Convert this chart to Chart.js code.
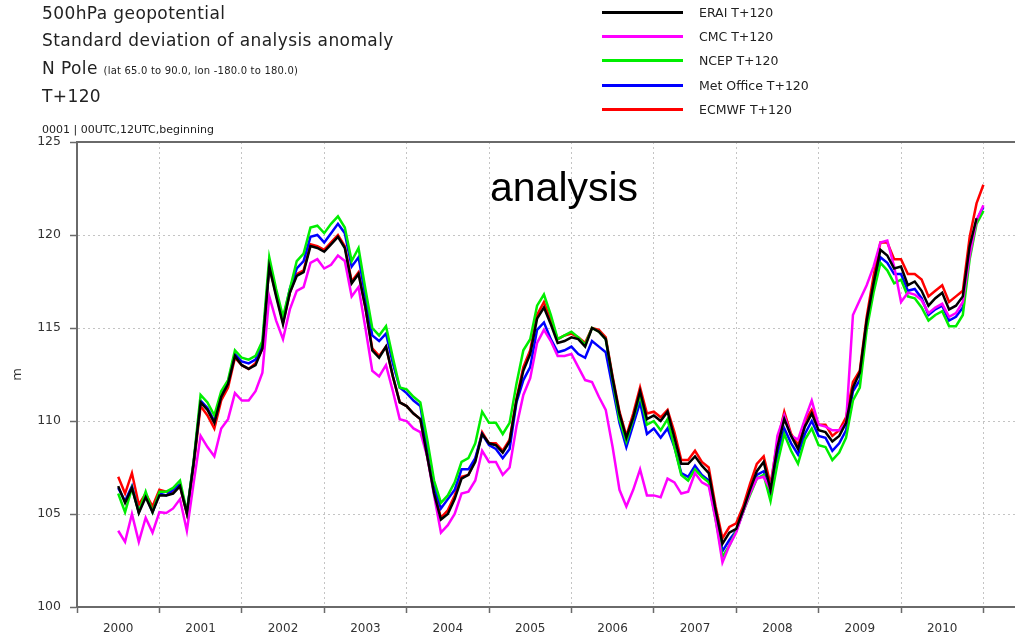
<!DOCTYPE html>
<html>
<head>
<meta charset="utf-8">
<script src="https://cdn.jsdelivr.net/npm/chart.js@4.4.1/dist/chart.umd.min.js"></script>
<style>
  body { margin: 0; background: #fff; }
  #wrap { position: relative; width: 1015px; height: 636px; font-family: "DejaVu Sans", sans-serif; color: #222; }
  #myChart { position: absolute; left: 0; top: 0; }
  .title { position: absolute; left: 42px; font-size: 17px; line-height: 17px; letter-spacing: 0.4px; white-space: nowrap; }
  .small { font-size: 10px; letter-spacing: 0.2px; }
  .note { position: absolute; left: 42px; top: 124px; font-size: 11px; line-height: 11px; white-space: nowrap; }
  .legend-row { position: absolute; left: 602px; height: 24px; display: flex; align-items: center; white-space: nowrap; font-size: 12.5px; }
  .legend-line { width: 81px; height: 3px; margin-right: 16px; }
  #analysis { position: absolute; left: 490px; top: 167px; font-family: "Liberation Sans", Arial, sans-serif; font-size: 41px; line-height: 41px; color: #000; }
</style>
</head>
<body>
<div id="wrap">
  <canvas id="myChart" width="1015" height="636"></canvas>
  <div class="title" style="top:5px">500hPa geopotential</div>
  <div class="title" style="top:32px">Standard deviation of analysis anomaly</div>
  <div class="title" style="top:60px">N Pole <span class="small">(lat 65.0 to 90.0, lon -180.0 to 180.0)</span></div>
  <div class="title" style="top:88px">T+120</div>
  <div class="note">0001 | 00UTC,12UTC,beginning</div>
  <div id="legend"></div>
  <div id="analysis">analysis</div>
</div>
<script>
// month index 0 = start of 2000, first plotted value is month 6 (mid 2000)
var firstMonth = 6;
var years = ['2000', '2001', '2002', '2003', '2004', '2005', '2006', '2007', '2008', '2009', '2010'];

var seriesNames = ['ERAI T+120', 'CMC T+120', 'NCEP T+120', 'Met Office T+120', 'ECMWF T+120'];
var seriesColors = ['#000000', '#ff00ff', '#00ee00', '#0000ff', '#ff0000'];

// ERAI (black)
var erai = [
  106.5, 105.6, 106.4, 105.05, 105.9, 105.1, 106.0, 106.0, 106.1, 106.5, 105.05, 107.8,
  111.0, 110.6, 109.9, 111.3, 112.0, 113.5, 113.0, 112.8, 113.0, 113.9, 118.3, 116.7,
  115.2, 116.9, 117.8, 118.0, 119.4, 119.3, 119.1, 119.5, 119.9, 119.3, 117.4, 117.9,
  116.1, 113.8, 113.4, 114.0, 112.4, 111.0, 110.8, 110.4, 110.1, 108.1, 106.1, 104.7,
  105.0, 105.8, 106.9, 107.1, 107.8, 109.3, 108.8, 108.7, 108.3, 108.9, 111.1, 112.7,
  113.6, 115.5, 116.1, 115.2, 114.2, 114.3, 114.5, 114.4, 114.0, 115.0, 114.8, 114.4,
  112.3, 110.4, 109.1, 110.2, 111.6, 110.1, 110.3, 110.0, 110.5, 109.1, 107.7, 107.7,
  108.1, 107.6, 107.2, 105.2, 103.4, 104.0, 104.2, 105.2, 106.3, 107.3, 107.8, 106.3,
  108.6, 110.1, 109.2, 108.5, 109.7, 110.4, 109.5, 109.4, 108.9, 109.2, 109.9, 111.8,
  112.6, 115.4, 117.4, 119.2, 118.9, 118.2, 118.3, 117.3, 117.5, 117.0, 116.2, 116.6,
  116.9, 116.0, 116.2, 116.7, 119.4, 120.9
];

// CMC (magenta)
var cmc = [
  104.1, 103.5, 105.0, 103.5, 104.8, 104.0, 105.1, 105.05, 105.3, 105.8, 104.1, 106.7,
  109.2, 108.6, 108.1, 109.6, 110.1, 111.5, 111.1, 111.1, 111.6, 112.6, 116.7, 115.4,
  114.4, 116.0, 117.0, 117.2, 118.5, 118.7, 118.2, 118.4, 118.9, 118.6, 116.7, 117.2,
  115.0, 112.7, 112.4, 113.0, 111.6, 110.1, 110.0, 109.6, 109.4, 108.1, 106.0, 104.0,
  104.4, 105.0, 106.1, 106.2, 106.8, 108.4, 107.8, 107.8, 107.1, 107.5, 109.7, 111.4,
  112.3, 114.2, 114.9, 114.3, 113.5, 113.5, 113.6, 112.9, 112.2, 112.1, 111.3, 110.6,
  108.6, 106.3, 105.4, 106.3, 107.4, 106.0, 106.0, 105.9, 106.9, 106.7, 106.1, 106.2,
  107.2, 106.7, 106.5, 104.7, 102.4, 103.3, 104.0, 105.1, 106.1, 106.9, 107.0, 106.3,
  109.2, 110.3, 109.2, 109.0, 110.1, 111.1, 109.8, 109.7, 109.5, 109.5, 109.9, 115.7,
  116.5, 117.3, 118.3, 119.6, 119.7, 118.3, 116.4, 116.9, 116.8, 116.5, 115.8, 116.1,
  116.3, 115.6, 115.8, 116.4, 118.9, 120.8, 121.6
];

// NCEP (green)
var ncep = [
  106.1, 105.1, 106.4, 105.1, 106.2, 105.1, 106.2, 106.2, 106.4, 106.8, 105.1, 107.9,
  111.4, 111.0, 110.3, 111.6, 112.2, 113.8, 113.4, 113.3, 113.5, 114.3, 118.8, 117.1,
  115.6, 117.1, 118.6, 119.0, 120.4, 120.5, 120.1, 120.6, 121.0, 120.4, 118.6, 119.3,
  117.1, 115.0, 114.6, 115.1, 113.4, 111.8, 111.7, 111.3, 111.0, 109.0, 106.8, 105.6,
  106.0, 106.7, 107.8, 108.0, 108.8, 110.5, 109.9, 109.9, 109.3, 109.9, 112.0, 113.8,
  114.4, 116.2, 116.8, 115.7, 114.4, 114.6, 114.8, 114.5, 114.1, 115.0, 114.8, 114.4,
  112.2, 110.1, 108.9, 110.1, 111.4, 109.8, 110.0, 109.5, 110.1, 108.6, 107.1, 106.8,
  107.4, 107.0, 106.7, 104.7, 102.7, 103.3, 104.1, 105.1, 106.0, 106.9, 107.1, 105.7,
  107.7, 109.3, 108.4, 107.7, 109.0, 109.6, 108.7, 108.6, 107.9, 108.3, 109.1, 111.1,
  111.8, 114.9, 116.9, 118.5, 118.1, 117.4, 117.6, 116.7, 116.6, 116.1, 115.4, 115.7,
  115.9, 115.1, 115.1, 115.7, 118.7, 120.6, 121.3
];

// Met Office (blue)
var metOffice = [
  106.4, 105.7, 106.5, 105.1, 106.0, 105.1, 106.1, 106.0, 106.3, 106.6, 105.1, 107.8,
  111.1, 110.7, 110.0, 111.4, 112.1, 113.6, 113.2, 113.1, 113.3, 114.1, 118.4, 116.9,
  115.4, 117.1, 118.2, 118.6, 119.9, 120.0, 119.6, 120.1, 120.6, 120.1, 118.3, 118.8,
  116.7, 114.6, 114.3, 114.7, 113.1, 111.8, 111.5, 111.1, 110.8, 108.6, 106.5, 105.3,
  105.8, 106.3, 107.4, 107.4, 108.0, 109.3, 108.7, 108.5, 108.0, 108.5, 111.0, 112.2,
  112.9, 114.9, 115.3, 114.4, 113.7, 113.8, 114.0, 113.6, 113.4, 114.3, 114.0, 113.7,
  111.8, 109.9, 108.6, 109.8, 111.0, 109.3, 109.6, 109.1, 109.6, 108.6, 107.2, 107.0,
  107.6, 107.1, 106.8, 104.9, 103.0, 103.6, 104.1, 105.1, 106.2, 107.1, 107.3, 106.0,
  108.2, 109.6, 108.8, 108.2, 109.3, 110.0, 109.2, 109.1, 108.4, 108.8, 109.5, 111.6,
  112.2, 115.2, 117.2, 118.8, 118.5, 117.9, 117.9, 117.0, 117.1, 116.6, 115.7, 116.0,
  116.2, 115.4, 115.6, 116.1, 119.0, 120.8, 121.5
];

// ECMWF (red)
var ecmwf = [
  107.0, 106.1, 107.2, 105.5, 106.1, 105.4, 106.3, 106.2, 106.2, 106.5, 105.0, 107.6,
  110.8, 110.3, 109.6, 111.1, 111.8, 113.4, 113.0, 112.8, 113.1, 113.9, 118.3, 116.8,
  115.3, 116.9, 117.9, 118.1, 119.5, 119.4, 119.2, 119.6, 120.0, 119.4, 117.5, 118.0,
  116.1, 113.9, 113.5, 114.0, 112.4, 111.0, 110.8, 110.4, 110.1, 108.1, 106.2, 104.8,
  105.2, 106.0, 107.0, 107.1, 107.9, 109.4, 108.8, 108.8, 108.4, 109.0, 111.2, 112.9,
  113.8, 115.7, 116.4, 115.4, 114.4, 114.6, 114.7, 114.5, 114.2, 115.0, 114.9, 114.5,
  112.4, 110.5, 109.2, 110.4, 111.8, 110.4, 110.5, 110.2, 110.6, 109.4, 107.9, 107.9,
  108.4, 107.8, 107.5, 105.4, 103.7, 104.3, 104.5, 105.4, 106.6, 107.7, 108.1, 106.6,
  108.9, 110.5, 109.3, 108.7, 110.0, 110.6, 109.8, 109.8, 109.2, 109.5, 110.2, 112.1,
  112.7, 115.6, 117.8, 119.6, 119.6, 118.7, 118.7, 117.9, 117.9, 117.6, 116.7, 117.0,
  117.3, 116.4, 116.7, 117.0, 119.9, 121.7, 122.7
];

var seriesValues = [erai, cmc, ncep, metOffice, ecmwf];

// turn a list of monthly values into {x, y} points on the month axis
function toPoints(values) {
    return values.map(function (v, i) { return { x: firstMonth + i, y: v }; });
}

// ticks every half year: year boundaries get grid lines, mid years get the label
var xTicks = [];
for (var k = 0; k <= years.length * 2; k++) xTicks.push(k * 6);

// build the html legend
var legendElement = document.getElementById('legend');
seriesNames.forEach(function (name, i) {
    var row = document.createElement('div');
    row.className = 'legend-row';
    row.style.top = (0 + i * 24.4) + 'px';
    row.innerHTML = '<div class="legend-line" style="background:' + seriesColors[i] + '"></div>' + name;
    legendElement.appendChild(row);
});

var gridColor = '#c4c4c4';
var axisColor = '#6a6a6a';

var ctx = document.getElementById('myChart').getContext('2d');
var chart = new Chart(ctx, {
    type: 'line',
    data: {
        datasets: seriesNames.map(function (name, i) {
            return {
                label: name,
                data: toPoints(seriesValues[i]),
                borderColor: seriesColors[i],
                backgroundColor: seriesColors[i],
                borderWidth: 2.5,
                pointRadius: 0,
                tension: 0,
                fill: false
            };
        })
    },
    options: {
        responsive: false,
        animation: false,
        layout: { padding: { top: 142, left: 0, right: 0, bottom: 0 } },
        plugins: { legend: { display: false }, tooltip: { enabled: false } },
        scales: {
            x: {
                type: 'linear',
                position: 'bottom',
                bounds: 'data',
                min: 0,
                max: 136.6,
                afterBuildTicks: function (scale) {
                    scale.ticks = xTicks.map(function (v) { return { value: v }; });
                },
                afterFit: function (scale) { scale.height = 29; },
                ticks: {
                    autoSkip: false,
                    maxRotation: 0,
                    padding: 9,
                    color: '#333',
                    font: { family: 'DejaVu Sans', size: 12 },
                    callback: function (value) {
                        return value % 12 === 6 ? years[(value - 6) / 12] : '';
                    }
                },
                grid: {
                    color: function (c) { return c.tick && c.tick.value % 12 === 0 ? gridColor : 'rgba(0,0,0,0)'; },
                    tickColor: function (c) { return c.tick && c.tick.value % 12 === 0 ? axisColor : 'rgba(0,0,0,0)'; },
                    tickLength: 6,
                    tickWidth: 1.5,
                    lineWidth: 1
                },
                border: { color: axisColor, width: 2, dash: [2, 3] }
            },
            xTop: {
                type: 'linear',
                position: 'top',
                bounds: 'data',
                min: 0,
                max: 136.6,
                afterFit: function (scale) { scale.height = 0; },
                ticks: { display: false },
                grid: { display: false, drawTicks: false },
                border: { color: axisColor, width: 2 }
            },
            y: {
                min: 100,
                max: 125,
                afterFit: function (scale) { scale.width = 77; },
                ticks: {
                    stepSize: 5,
                    padding: 9,
                    color: '#333',
                    font: { family: 'DejaVu Sans', size: 12.5 }
                },
                title: {
                    display: true,
                    text: 'm',
                    color: '#333',
                    font: { family: 'DejaVu Sans', size: 13 },
                    padding: { top: 10, bottom: 0 }
                },
                grid: { color: gridColor, tickColor: axisColor, tickLength: 7, tickWidth: 1.5, lineWidth: 1 },
                border: { color: axisColor, width: 2, dash: [2, 3] }
            }
        }
    }
});
</script>
</body>
</html>
